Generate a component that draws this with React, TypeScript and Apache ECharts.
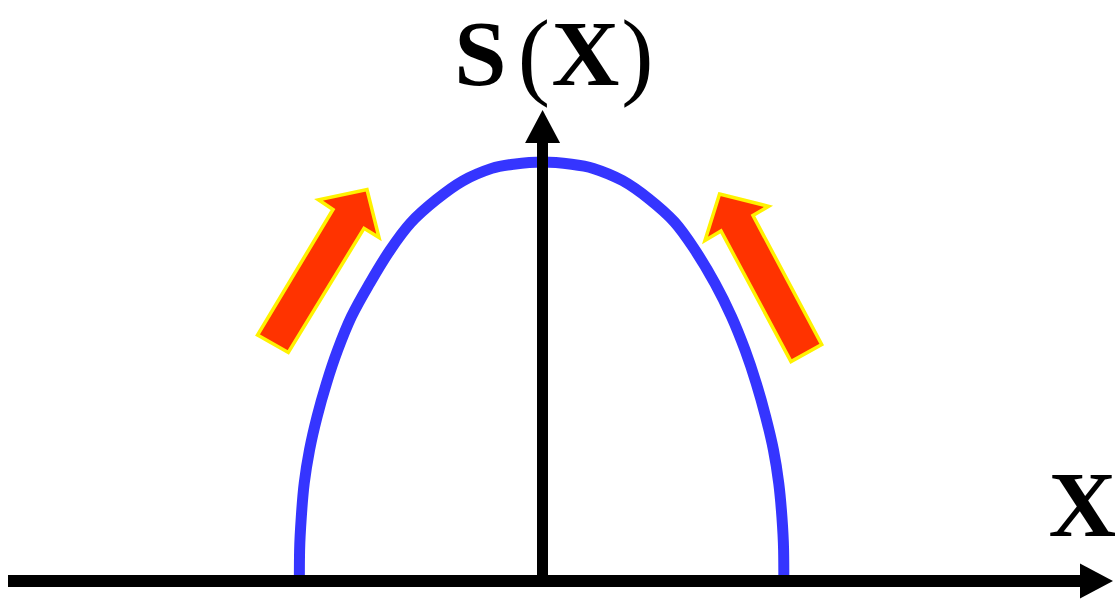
import React, { useEffect, useRef } from "react";
import * as echarts from "echarts";

// Curve S(X): horizontal position (units, 0 = vertical axis) and height (peak = 1)
const curveX = [
  -1.005, -1.004, -0.997, -0.985, -0.963, -0.932, -0.893, -0.847, -0.79, -0.715, -0.63, -0.545, -0.44, -0.33,
  -0.21, -0.12, 0, 0.12, 0.21, 0.33, 0.44, 0.545, 0.63, 0.713, 0.781, 0.837, 0.883, 0.922, 0.954, 0.976, 0.989,
  0.996, 0.997,
];
const curveY = [
  0, 0.074, 0.153, 0.233, 0.313, 0.392, 0.472, 0.551, 0.631, 0.71, 0.79, 0.855, 0.91, 0.955,
  0.985, 0.995, 1, 0.995, 0.985, 0.956, 0.912, 0.857, 0.79, 0.71, 0.631, 0.551, 0.472, 0.392, 0.313, 0.233, 0.153,
  0.074, 0,
];
const xRange = [-2.209, 2.289];
const yRange = [0, 1.085];
const yLabel = ["S", "(", "X", ")"];
const xLabel = "X";

export default function App() {
  const ref = useRef<HTMLDivElement>(null);
  useEffect(() => {
    if (!ref.current) return;
    const chart = echarts.init(ref.current, null, { renderer: "svg" });
    const data = curveX.map((x, i) => [x, curveY[i]]);
    const serif = '"Liberation Serif", "Times New Roman", serif';
    const textEl = (text: string, x: number, y: number, font: string) => ({
      type: "text",
      x,
      y,
      z: 10,
      style: {
        text,
        font,
        fill: "#000",
        align: "center",
        textAlign: "center",
        verticalAlign: "middle",
        textVerticalAlign: "middle",
      },
    });
    const arrowStyle = { fill: "#FF3300", stroke: "#FFF200", lineWidth: 3.5, lineJoin: "miter" };
    chart.setOption({
      animation: false,
      backgroundColor: "#fff",
      grid: { left: 8, right: 18.5, top: 126.5, bottom: 20, containLabel: false },
      xAxis: {
        type: "value",
        min: xRange[0],
        max: xRange[1],
        z: 5,
        axisLine: {
          show: true,
          onZero: true,
          symbol: ["none", "triangle"],
          symbolSize: [35, 33],
          lineStyle: { color: "#000", width: 12, cap: "butt" },
        },
        axisTick: { show: false },
        axisLabel: { show: false },
        splitLine: { show: false },
      },
      yAxis: {
        type: "value",
        min: yRange[0],
        max: yRange[1],
        z: 5,
        axisLine: {
          show: true,
          onZero: true,
          symbol: ["none", "triangle"],
          symbolSize: [35, 33],
          lineStyle: { color: "#000", width: 11, cap: "butt" },
        },
        axisTick: { show: false },
        axisLabel: { show: false },
        splitLine: { show: false },
      },
      series: [
        {
          type: "line",
          data,
          smooth: 0.35,
          showSymbol: false,
          symbol: "none",
          lineStyle: { color: "#3535FF", width: 11, cap: "butt" },
          silent: true,
        },
      ],
      graphic: [
        {
          type: "polygon",
          z: 10,
          shape: {
            points: [
              [257.5, 335], [288.3, 352.5], [364, 228.3], [379, 237.5], [367, 189.5], [318.5, 199.8], [333, 209.5],
            ],
          },
          style: arrowStyle,
        },
        {
          type: "polygon",
          z: 10,
          shape: {
            points: [
              [719.5, 194], [768.5, 206.3], [753, 215.5], [821.7, 344.5], [791, 361.5], [721, 231], [705, 240.5],
            ],
          },
          style: arrowStyle,
        },
        textEl(yLabel[0], 480.5, 53, `bold 94px ${serif}`),
        textEl(yLabel[1], 534, 54.5, `97px ${serif}`),
        textEl(yLabel[2], 585.5, 53, `bold 94px ${serif}`),
        textEl(yLabel[3], 637.5, 54.5, `97px ${serif}`),
        textEl(xLabel, 1082.5, 504, `bold 94px ${serif}`),
      ],
    });
    return () => chart.dispose();
  }, []);
  return (
    <div
      ref={ref}
      style={{ position: "fixed", left: 0, top: 0, width: 1115, height: 601 }}
    />
  );
}
